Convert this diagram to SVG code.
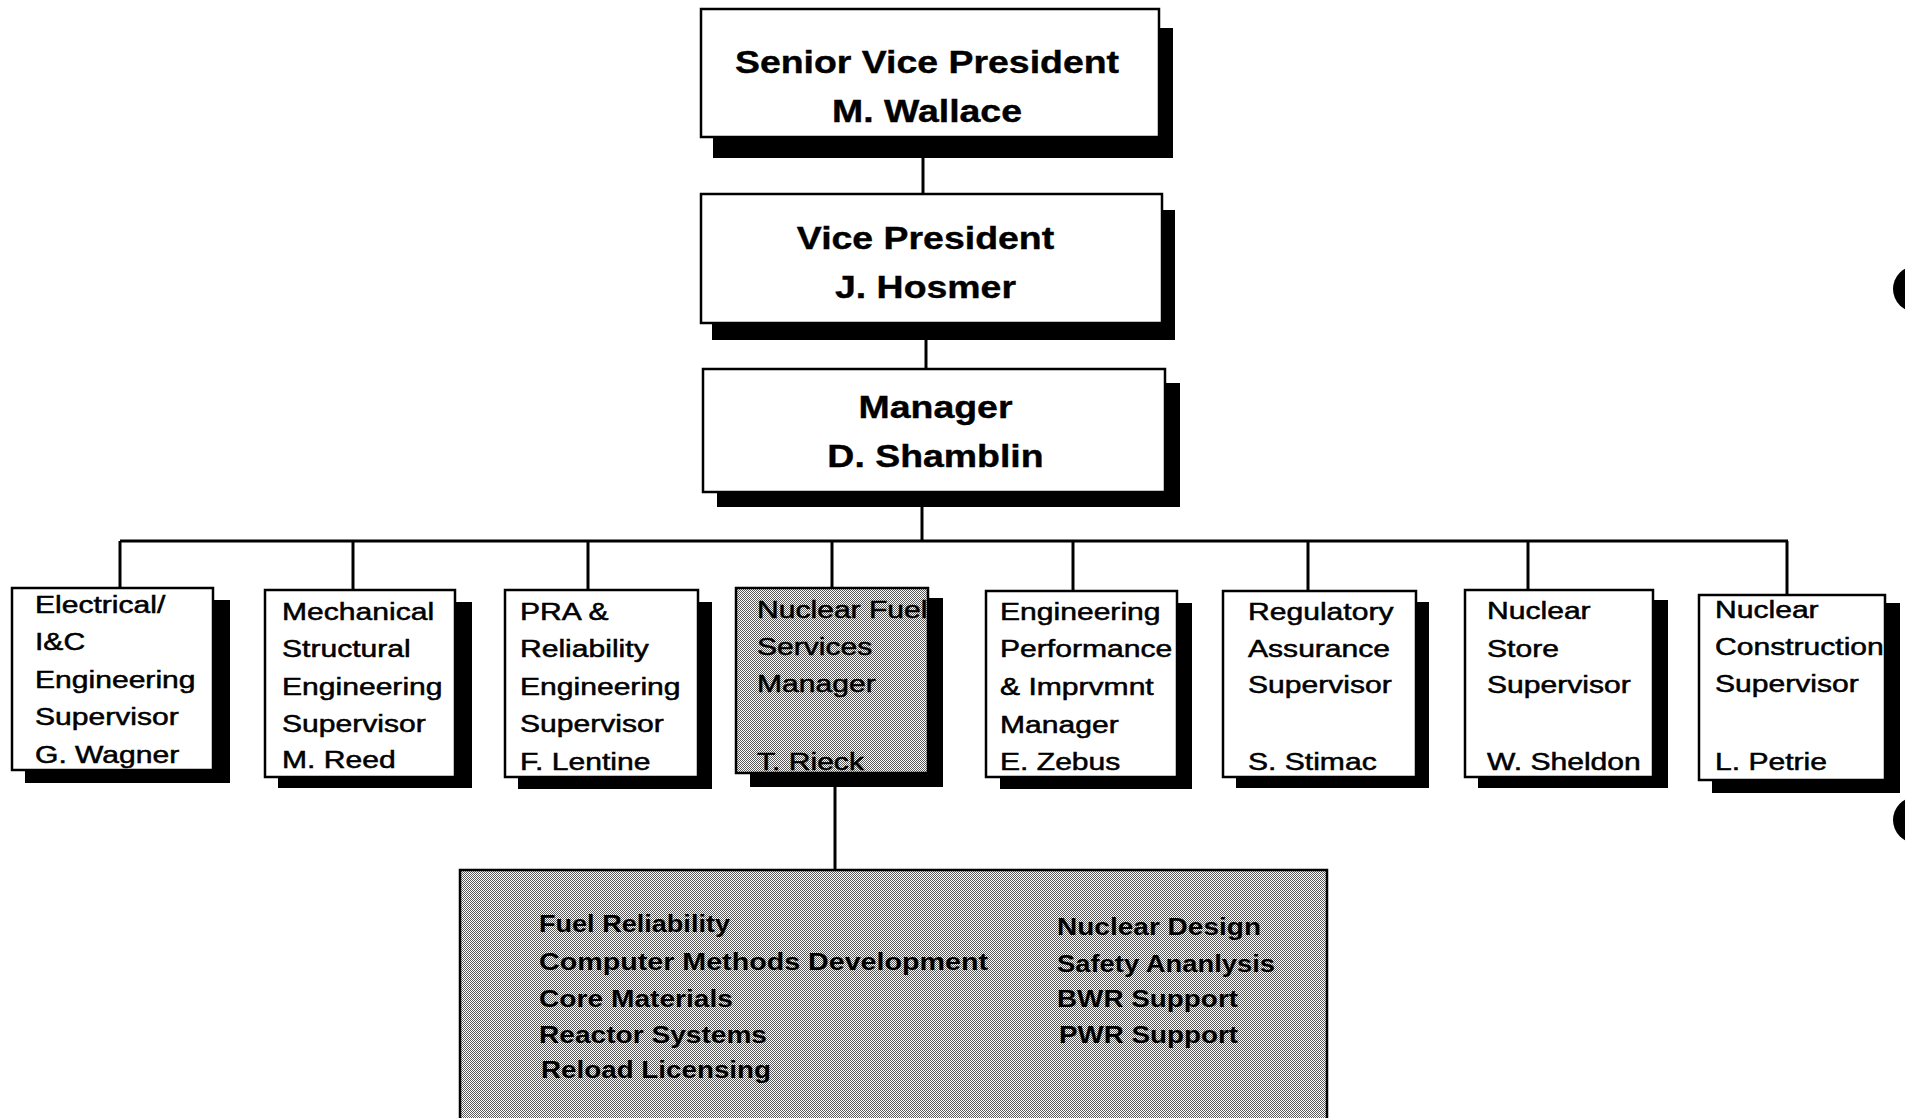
<svg xmlns="http://www.w3.org/2000/svg" width="1905" height="1118" viewBox="0 0 1905 1118">
<defs>
<pattern id="dots" width="2" height="2" patternUnits="userSpaceOnUse">
<rect width="2" height="2" fill="#ffffff"/>
<rect x="0" y="0" width="1" height="1" fill="#5a5a5a"/>
<rect x="1" y="1" width="1" height="1" fill="#5a5a5a"/>
</pattern>
</defs>
<style>
.box{fill:#ffffff;stroke:#000000;stroke-width:2.5}
.gray{fill:url(#dots);stroke:#000000;stroke-width:2.5}
.shadow{fill:#000000}
.conn{stroke:#000000;stroke-width:3;fill:none}
.big{font-family:"Liberation Sans",Arial,sans-serif;font-weight:bold;font-size:32px;fill:#000000;text-anchor:middle;stroke:#000000;stroke-width:0.4}
.small{font-family:"Liberation Sans",Arial,sans-serif;font-size:23.5px;fill:#000000;stroke:#000000;stroke-width:0.5}
.list{font-family:"Liberation Sans",Arial,sans-serif;font-weight:bold;font-size:23px;fill:#000000}
</style>
<rect width="1905" height="1118" fill="#ffffff"/>

<g id="connectors">
<line class="conn" x1="923" y1="158" x2="923" y2="194"/>
<line class="conn" x1="926" y1="340" x2="926" y2="369"/>
<line class="conn" x1="922" y1="507" x2="922" y2="541"/>
<line class="conn" x1="120" y1="541" x2="1788" y2="541"/>
<line class="conn" x1="120" y1="541" x2="120" y2="588"/>
<line class="conn" x1="353" y1="541" x2="353" y2="590"/>
<line class="conn" x1="588" y1="541" x2="588" y2="590"/>
<line class="conn" x1="832" y1="541" x2="832" y2="588"/>
<line class="conn" x1="1073" y1="541" x2="1073" y2="591"/>
<line class="conn" x1="1308" y1="541" x2="1308" y2="591"/>
<line class="conn" x1="1528" y1="541" x2="1528" y2="590"/>
<line class="conn" x1="1787" y1="541" x2="1787" y2="595"/>
<line class="conn" x1="835" y1="787" x2="835" y2="870"/>
</g>

<g id="svp">
<rect class="shadow" x="713" y="28" width="460" height="130"/>
<rect class="box" x="701" y="9" width="458" height="128"/>
<g transform="translate(927 0) scale(1.17 1)">
<text class="big" x="0" y="73">Senior Vice President</text>
<text class="big" x="0" y="122">M. Wallace</text>
</g>
</g>

<g id="vp">
<rect class="shadow" x="712" y="210" width="463" height="130"/>
<rect class="box" x="701" y="194" width="461" height="129"/>
<g transform="translate(925.5 0) scale(1.17 1)">
<text class="big" x="0" y="249">Vice President</text>
<text class="big" x="0" y="298">J. Hosmer</text>
</g>
</g>

<g id="manager">
<rect class="shadow" x="717" y="383" width="463" height="124"/>
<rect class="box" x="703" y="369" width="462" height="123"/>
<g transform="translate(935.5 0) scale(1.17 1)">
<text class="big" x="0" y="418">Manager</text>
<text class="big" x="0" y="467">D. Shamblin</text>
</g>
</g>

<g id="electrical">
<rect class="shadow" x="25" y="600" width="205" height="183"/>
<rect class="box" x="12" y="588" width="201" height="182"/>
<g transform="translate(35 0) scale(1.28 1)">
<text class="small" x="0" y="613">Electrical/</text>
<text class="small" x="0" y="650">I&amp;C</text>
<text class="small" x="0" y="688">Engineering</text>
<text class="small" x="0" y="725">Supervisor</text>
<text class="small" x="0" y="763">G. Wagner</text>
</g>
</g>

<g id="mechanical">
<rect class="shadow" x="278" y="602" width="194" height="186"/>
<rect class="box" x="265" y="590" width="190" height="187"/>
<g transform="translate(282 0) scale(1.28 1)">
<text class="small" x="0" y="620">Mechanical</text>
<text class="small" x="0" y="657">Structural</text>
<text class="small" x="0" y="695">Engineering</text>
<text class="small" x="0" y="732">Supervisor</text>
<text class="small" x="0" y="768">M. Reed</text>
</g>
</g>

<g id="pra">
<rect class="shadow" x="518" y="602" width="194" height="187"/>
<rect class="box" x="505" y="590" width="193" height="187"/>
<g transform="translate(520 0) scale(1.28 1)">
<text class="small" x="0" y="620">PRA &amp;</text>
<text class="small" x="0" y="657">Reliability</text>
<text class="small" x="0" y="695">Engineering</text>
<text class="small" x="0" y="732">Supervisor</text>
<text class="small" x="0" y="770">F. Lentine</text>
</g>
</g>

<g id="nuclear-fuel">
<rect class="shadow" x="750" y="598" width="193" height="189"/>
<rect class="gray" x="736" y="588" width="192" height="185"/>
<g transform="translate(757 0) scale(1.28 1)">
<text class="small" x="0" y="618">Nuclear Fuel</text>
<text class="small" x="0" y="655">Services</text>
<text class="small" x="0" y="692">Manager</text>
<text class="small" x="0" y="770">T. Rieck</text>
</g>
</g>

<g id="eng-perf">
<rect class="shadow" x="1000" y="603" width="192" height="186"/>
<rect class="box" x="986" y="591" width="191" height="186"/>
<g transform="translate(1000 0) scale(1.28 1)">
<text class="small" x="0" y="620">Engineering</text>
<text class="small" x="0" y="657">Performance</text>
<text class="small" x="0" y="695">&amp; Imprvmnt</text>
<text class="small" x="0" y="733">Manager</text>
<text class="small" x="0" y="770">E. Zebus</text>
</g>
</g>

<g id="regulatory">
<rect class="shadow" x="1236" y="602" width="193" height="186"/>
<rect class="box" x="1223" y="591" width="193" height="186"/>
<g transform="translate(1248 0) scale(1.28 1)">
<text class="small" x="0" y="620">Regulatory</text>
<text class="small" x="0" y="657">Assurance</text>
<text class="small" x="0" y="693">Supervisor</text>
<text class="small" x="0" y="770">S. Stimac</text>
</g>
</g>

<g id="store">
<rect class="shadow" x="1478" y="600" width="190" height="188"/>
<rect class="box" x="1465" y="590" width="188" height="187"/>
<g transform="translate(1487 0) scale(1.28 1)">
<text class="small" x="0" y="619">Nuclear</text>
<text class="small" x="0" y="657">Store</text>
<text class="small" x="0" y="693">Supervisor</text>
<text class="small" x="0" y="770">W. Sheldon</text>
</g>
</g>

<g id="construction">
<rect class="shadow" x="1712" y="603" width="188" height="190"/>
<rect class="box" x="1699" y="595" width="186" height="185"/>
<g transform="translate(1715 0) scale(1.28 1)">
<text class="small" x="0" y="618">Nuclear</text>
<text class="small" x="0" y="655">Construction</text>
<text class="small" x="0" y="692">Supervisor</text>
<text class="small" x="0" y="770">L. Petrie</text>
</g>
</g>

<g id="fuel-services">
<rect class="gray" x="460" y="870" width="867" height="270"/>
<text class="list" x="539" y="932" textLength="191" lengthAdjust="spacingAndGlyphs">Fuel Reliability</text>
<text class="list" x="539" y="970" textLength="449" lengthAdjust="spacingAndGlyphs">Computer Methods Development</text>
<text class="list" x="539" y="1007" textLength="194" lengthAdjust="spacingAndGlyphs">Core Materials</text>
<text class="list" x="539" y="1043" textLength="228" lengthAdjust="spacingAndGlyphs">Reactor Systems</text>
<text class="list" x="541" y="1078" textLength="230" lengthAdjust="spacingAndGlyphs">Reload Licensing</text>
<text class="list" x="1057" y="935" textLength="204" lengthAdjust="spacingAndGlyphs">Nuclear Design</text>
<text class="list" x="1057" y="972" textLength="218" lengthAdjust="spacingAndGlyphs">Safety Ananlysis</text>
<text class="list" x="1057" y="1007" textLength="181" lengthAdjust="spacingAndGlyphs">BWR Support</text>
<text class="list" x="1059" y="1043" textLength="179" lengthAdjust="spacingAndGlyphs">PWR Support</text>
</g>

<ellipse cx="1916" cy="289" rx="23" ry="23" fill="#000000"/>
<ellipse cx="1916" cy="820" rx="23" ry="23" fill="#000000"/>
</svg>
